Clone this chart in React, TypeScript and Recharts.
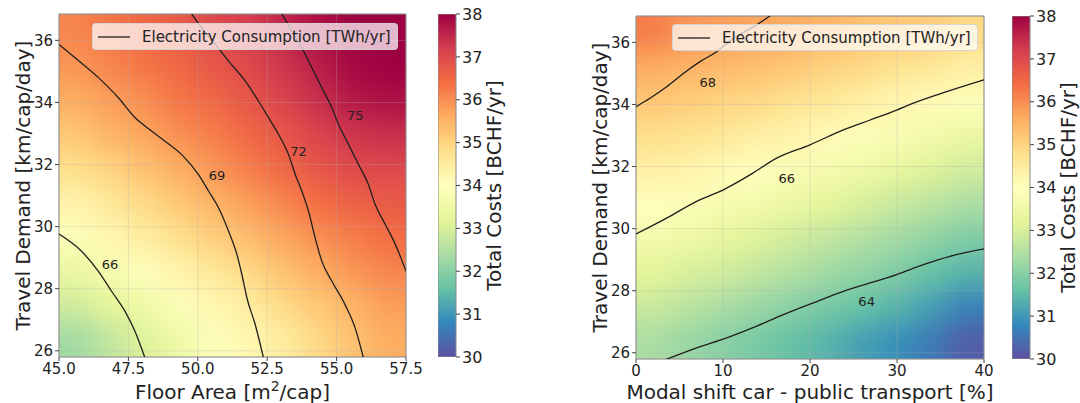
import {
  ScatterChart,
  Scatter,
  ComposedChart,
  Line,
  XAxis,
  YAxis,
  CartesianGrid,
  ReferenceArea,
  ReferenceDot,
  Legend,
  BarChart,
  Bar,
} from "recharts";

const FONT = "'DejaVu Sans', Verdana, sans-serif";
const INK = "#222222";

// shared y axis (travel demand, km/cap/day)
const Y_DOMAIN: [number, number] = [25.8, 36.85];
const TRAVEL_TICKS = [26, 28, 30, 32, 34, 36];
const TRAVEL_Y = [36.25, 35.15, 34.05, 32.95, 31.85, 30.75, 29.65, 28.55, 27.45, 26.35];
const COST_TICKS = [30, 31, 32, 33, 34, 35, 36, 37, 38];

// left panel: floor area
const FLOOR_DOMAIN: [number, number] = [45, 57.5];
const FLOOR_TICKS = [45, 47.5, 50, 52.5, 55, 57.5];
const FLOOR_X = [45.625, 46.875, 48.125, 49.375, 50.625, 51.875, 53.125, 54.375, 55.625, 56.875];
// total costs [BCHF/yr], rows follow TRAVEL_Y (top -> bottom)
const COST_FLOOR = [
  [36.1, 36.3, 36.5, 36.7, 37.0, 37.2, 37.5, 37.8, 38.0, 38.0],
  [35.9, 36.1, 36.3, 36.5, 36.8, 37.0, 37.3, 37.6, 37.9, 38.0],
  [35.6, 35.8, 36.0, 36.3, 36.5, 36.8, 37.1, 37.4, 37.7, 37.8],
  [35.2, 35.5, 35.7, 36.0, 36.2, 36.5, 36.8, 37.1, 37.3, 37.4],
  [34.8, 35.0, 35.3, 35.6, 35.9, 36.2, 36.5, 36.8, 37.0, 37.0],
  [34.3, 34.6, 34.9, 35.2, 35.5, 35.8, 36.1, 36.4, 36.6, 36.7],
  [33.9, 34.2, 34.5, 34.8, 35.1, 35.4, 35.7, 36.0, 36.2, 36.4],
  [33.4, 33.7, 34.0, 34.3, 34.6, 34.9, 35.3, 35.6, 35.9, 36.1],
  [32.9, 33.2, 33.5, 33.9, 34.2, 34.5, 34.9, 35.2, 35.5, 35.8],
  [32.3, 32.7, 33.1, 33.5, 33.9, 34.2, 34.5, 34.9, 35.3, 35.6],
];
// electricity consumption contours [TWh/yr]
const ELEC_FLOOR_66 = [[45.0, 29.76], [45.82, 29.2], [46.42, 28.56], [46.9, 27.91], [47.38, 27.27], [47.74, 26.62], [48.1, 25.76]];
const ELEC_FLOOR_69 = [[45.0, 35.87], [45.58, 35.44], [46.42, 34.8], [47.14, 34.15], [47.74, 33.51], [48.1, 33.24], [48.82, 32.75], [49.42, 32.32], [50.02, 31.68], [50.39, 31.14], [50.75, 30.6], [51.11, 29.85], [51.41, 29.1], [51.59, 28.45], [51.77, 27.7], [52.07, 26.84], [52.37, 25.76]];
const ELEC_FLOOR_72 = [[49.78, 36.85], [50.14, 36.41], [50.63, 35.87], [51.11, 35.33], [51.71, 34.69], [52.19, 34.04], [52.55, 33.51], [52.91, 32.97], [53.27, 32.32], [53.51, 31.68], [53.75, 31.14], [53.99, 30.49], [54.23, 29.63], [54.47, 28.88], [54.83, 28.24], [55.31, 27.48], [55.67, 26.73], [55.97, 25.76]];
const ELEC_FLOOR_75 = [[53.03, 36.85], [53.39, 36.3], [53.75, 35.76], [54.11, 35.12], [54.47, 34.47], [54.83, 33.83], [55.07, 33.29], [55.43, 32.65], [55.79, 32.0], [56.15, 31.35], [56.39, 30.71], [56.76, 30.06], [57.12, 29.42], [57.5, 28.56]];
const FLOOR_LEVELS = ["66", "69", "72", "75"];
const FLOOR_LABEL_AT = [[46.84, 28.77], [50.69, 31.66], [53.63, 32.41], [55.67, 33.59]];

// right panel: modal shift
const MODAL_DOMAIN: [number, number] = [0, 40];
const MODAL_TICKS = [0, 10, 20, 30, 40];
const MODAL_X = [2, 6, 10, 14, 18, 22, 26, 30, 34, 38];
const COST_MODAL = [
  [36.2, 35.9, 35.8, 35.7, 35.6, 35.5, 35.3, 35.2, 35.1, 34.9],
  [35.6, 35.5, 35.4, 35.3, 35.2, 35.0, 34.9, 34.7, 34.6, 34.4],
  [35.2, 35.1, 35.0, 34.9, 34.7, 34.6, 34.4, 34.2, 34.1, 33.9],
  [34.8, 34.7, 34.6, 34.4, 34.3, 34.1, 33.9, 33.8, 33.6, 33.4],
  [34.4, 34.3, 34.1, 34.0, 33.8, 33.7, 33.5, 33.3, 33.1, 32.9],
  [34.0, 33.9, 33.7, 33.6, 33.4, 33.2, 33.0, 32.8, 32.6, 32.4],
  [33.6, 33.5, 33.3, 33.1, 32.9, 32.7, 32.5, 32.3, 32.1, 31.9],
  [33.2, 33.0, 32.9, 32.7, 32.5, 32.3, 32.1, 31.9, 31.6, 31.4],
  [32.8, 32.6, 32.4, 32.2, 32.0, 31.8, 31.6, 31.4, 31.1, 30.7],
  [32.4, 32.2, 32.0, 31.8, 31.6, 31.4, 31.1, 30.9, 30.6, 30.2],
];
const ELEC_MODAL_68 = [[0, 33.93], [1.61, 34.2], [3.52, 34.57], [5.44, 35.0], [7.36, 35.38], [9.27, 35.7], [11.19, 36.13], [13.49, 36.5], [15.4, 36.85]];
const ELEC_MODAL_66 = [[0, 29.83], [3.52, 30.34], [6.97, 30.88], [10.04, 31.25], [13.1, 31.73], [16.17, 32.27], [20.0, 32.7], [23.83, 33.18], [26.9, 33.5], [29.96, 33.82], [31.88, 34.04], [35.71, 34.41], [40, 34.79]];
const ELEC_MODAL_64 = [[3.14, 25.75], [6.97, 26.16], [10.42, 26.48], [13.87, 26.86], [16.93, 27.23], [20.38, 27.61], [23.83, 27.98], [26.9, 28.25], [29.96, 28.52], [33.03, 28.84], [36.09, 29.11], [40, 29.35]];
const MODAL_LEVELS = ["68", "66", "64"];
const MODAL_LABEL_AT = [[8.24, 34.7], [17.32, 31.63], [26.51, 27.66]];

const COLORBAR = [{ name: "cost", range: [30, 38] }];

// Spectral_r, 30 -> 38
const SPECTRAL_R = ["#5e4fa2", "#3288bd", "#66c2a5", "#abdda4", "#e6f598", "#ffffbf", "#fee08b", "#fdae61", "#f46d43", "#d53e4f", "#9e0142"];

function hexRgb(h: string) {
  return [1, 3, 5].map((i) => parseInt(h.slice(i, i + 2), 16));
}

function cmap(v: number) {
  const t = Math.max(0, Math.min(1, (v - 30) / 8)) * 10;
  const i = Math.min(9, Math.floor(t));
  const f = t - i;
  const a = hexRgb(SPECTRAL_R[i]);
  const b = hexRgb(SPECTRAL_R[i + 1]);
  const c = a.map((x, k) => Math.round(x + (b[k] - x) * f));
  return `rgb(${c[0]},${c[1]},${c[2]})`;
}

const toPts = (arr: number[][]) => arr.map(([x, y]) => ({ x, y }));

function Heatmap({ left, top, width, height, xs, grid, xDomain }: any) {
  const E = 50;
  const xpp = (xDomain[1] - xDomain[0]) / width;
  const ypp = (Y_DOMAIN[1] - Y_DOMAIN[0]) / height;
  const cw = (xs[1] - xs[0]) / xpp;
  const ch = (TRAVEL_Y[0] - TRAVEL_Y[1]) / ypp;
  const cells: any[] = [];
  TRAVEL_Y.forEach((y, r) => xs.forEach((x: number, c: number) => cells.push({ x, y, v: grid[r][c], r, c })));
  const lastC = xs.length - 1;
  const lastR = TRAVEL_Y.length - 1;

  const shape = (p: any) => {
    const { cx, cy, payload } = p;
    let x0 = cx - cw / 2 - 0.6;
    let x1 = cx + cw / 2 + 0.6;
    let y0 = cy - ch / 2 - 0.6;
    let y1 = cy + ch / 2 + 0.6;
    if (payload.c === 0) x0 -= E;
    if (payload.c === lastC) x1 += E;
    if (payload.r === 0) y0 -= E;
    if (payload.r === lastR) y1 += E;
    return <rect x={x0} y={y0} width={x1 - x0} height={y1 - y0} fill={cmap(payload.v)} />;
  };

  return (
    <div style={{ position: "absolute", left, top, width, height, overflow: "hidden" }}>
      <div style={{ position: "absolute", left: -E, top: -E, filter: "blur(13px)" }}>
        <ScatterChart
          width={width + 2 * E}
          height={height + 2 * E}
          margin={{ top: 0, right: 0, bottom: 0, left: 0 }}
        >
          <XAxis type="number" dataKey="x" hide allowDataOverflow domain={[xDomain[0] - E * xpp, xDomain[1] + E * xpp]} />
          <YAxis type="number" dataKey="y" hide allowDataOverflow domain={[Y_DOMAIN[0] - E * ypp, Y_DOMAIN[1] + E * ypp]} />
          <Scatter data={cells} shape={shape} isAnimationActive={false} />
        </ScatterChart>
      </div>
    </div>
  );
}

const vTitle = (text: string, shift: number) => (props: any) => {
  const vb = props.viewBox || {};
  const cx = vb.x + vb.width / 2 + shift;
  const cy = vb.y + vb.height / 2;
  return (
    <text
      x={cx}
      y={cy}
      transform={`rotate(-90 ${cx} ${cy})`}
      textAnchor="middle"
      dominantBaseline="central"
      fontSize={20}
      fontFamily={FONT}
      fill={INK}
    >
      {text}
    </text>
  );
};

const xTitle = (parts: any) => (props: any) => {
  const vb = props.viewBox || {};
  return (
    <text x={vb.x + vb.width / 2} y={vb.y + vb.height - 4} textAnchor="middle" fontSize={20} fontFamily={FONT} fill={INK}>
      {parts}
    </text>
  );
};

const legendBox = () => (
  <div
    style={{
      width: 306,
      height: 27,
      boxSizing: "border-box",
      background: "rgba(255,255,255,0.72)",
      border: "1px solid rgba(210,210,210,0.9)",
      borderRadius: 4,
      display: "flex",
      alignItems: "center",
      fontFamily: FONT,
      fontSize: 15,
      color: INK,
      whiteSpace: "nowrap",
    }}
  >
    <svg width={32} height={4} style={{ marginLeft: 5 }}>
      <line x1={0} y1={2} x2={32} y2={2} stroke="#1f1f1f" strokeWidth={1.3} />
    </svg>
    <span style={{ marginLeft: 12 }}>Electricity Consumption [TWh/yr]</span>
  </div>
);

function Panel({ left, top, plotW, xDomain, xTicks, xFmt, contours, levels, labelAt, xLabel, legendLeft, legendTop }: any) {
  const plotH = 343;
  const W = 450;
  return (
    <div style={{ position: "absolute", left, top: 0 }}>
      <ComposedChart width={W} height={403} margin={{ top, right: W - 59 - plotW, bottom: 0, left: 0 }}>
        <CartesianGrid stroke="#b0b0b0" strokeOpacity={0.35} strokeWidth={0.8} />
        <XAxis
          type="number"
          dataKey="x"
          domain={xDomain}
          ticks={xTicks}
          tickFormatter={xFmt}
          allowDataOverflow
          interval={0}
          height={403 - top - plotH}
          axisLine={false}
          tickLine={{ stroke: "#444" }}
          tickSize={4}
          tickMargin={2}
          tick={{ fontSize: 15, fill: INK, fontFamily: FONT }}
          label={xTitle(xLabel)}
        />
        <YAxis
          type="number"
          dataKey="y"
          domain={Y_DOMAIN}
          ticks={TRAVEL_TICKS}
          allowDataOverflow
          interval={0}
          width={59}
          axisLine={false}
          tickLine={{ stroke: "#444" }}
          tickSize={4}
          tickMargin={2}
          tick={{ fontSize: 15, fill: INK, fontFamily: FONT }}
          label={vTitle("Travel Demand [km/cap/day]", -6.5)}
        />
        {contours.map((c: number[][], i: number) => (
          <Line
            key={levels[i]}
            data={toPts(c)}
            dataKey="y"
            type="monotone"
            stroke="#1f1f1f"
            strokeWidth={1.3}
            dot={false}
            activeDot={false}
            legendType="none"
            isAnimationActive={false}
          />
        ))}
        {labelAt.map(([x, y]: number[], i: number) => (
          <ReferenceDot
            key={"l" + levels[i]}
            x={x}
            y={y}
            r={0}
            fill="none"
            stroke="none"
            label={{ value: levels[i], position: "center", fontSize: 13, fill: INK, fontFamily: FONT }}
          />
        ))}
        <ReferenceArea
          x1={xDomain[0]}
          x2={xDomain[1]}
          y1={Y_DOMAIN[0]}
          y2={Y_DOMAIN[1]}
          fill="none"
          fillOpacity={0}
          stroke="#8a8a8a"
          strokeWidth={1}
        />
        <Legend
          layout="vertical"
          align="center"
          verticalAlign="middle"
          content={legendBox}
          wrapperStyle={{ position: "absolute", left: legendLeft, top: legendTop, width: 306, height: 27 }}
        />
      </ComposedChart>
    </div>
  );
}

function ColorBar({ left, top, id, labelWidth }: any) {
  return (
    <div style={{ position: "absolute", left, top: 0 }}>
      <BarChart
        width={18 + labelWidth}
        height={403}
        data={COLORBAR}
        margin={{ top, right: 0, bottom: 403 - top - 343, left: 0 }}
        barCategoryGap={0}
      >
        <defs>
          <linearGradient id={id} x1="0" y1="1" x2="0" y2="0">
            {SPECTRAL_R.map((c, i) => (
              <stop key={i} offset={i / 10} stopColor={c} />
            ))}
          </linearGradient>
        </defs>
        <XAxis dataKey="name" hide />
        <YAxis
          orientation="right"
          type="number"
          domain={[30, 38]}
          ticks={COST_TICKS}
          allowDataOverflow
          interval={0}
          width={labelWidth}
          axisLine={false}
          tickLine={{ stroke: "#444" }}
          tickSize={4}
          tickMargin={2}
          tick={{ fontSize: 16, fill: INK, fontFamily: FONT }}
          label={vTitle("Total Costs [BCHF/yr]", 0)}
        />
        <Bar dataKey="range" fill={`url(#${id})`} stroke="#8a8a8a" strokeWidth={1} isAnimationActive={false} />
      </BarChart>
    </div>
  );
}

export default function App() {
  const floorLabel = (
    <>
      Floor Area [m
      <tspan dy={-8} fontSize={14}>2</tspan>
      <tspan dy={8}>/cap]</tspan>
    </>
  );
  return (
    <div
      style={{
        position: "absolute",
        left: 0,
        top: 0,
        width: 1080,
        height: 403,
        overflow: "hidden",
        background: "#ffffff",
        fontFamily: FONT,
      }}
    >
      <Heatmap left={59} top={14} width={347} height={343} xs={FLOOR_X} grid={COST_FLOOR} xDomain={FLOOR_DOMAIN} />
      <Heatmap left={636} top={16} width={348} height={343} xs={MODAL_X} grid={COST_MODAL} xDomain={MODAL_DOMAIN} />

      <Panel
        left={0}
        top={14}
        plotW={347}
        xDomain={FLOOR_DOMAIN}
        xTicks={FLOOR_TICKS}
        xFmt={(v: number) => v.toFixed(1)}
        contours={[ELEC_FLOOR_66, ELEC_FLOOR_69, ELEC_FLOOR_72, ELEC_FLOOR_75]}
        levels={FLOOR_LEVELS}
        labelAt={FLOOR_LABEL_AT}
        xLabel={floorLabel}
        legendLeft={92}
        legendTop={23}
      />
      <Panel
        left={577}
        top={16}
        plotW={348}
        xDomain={MODAL_DOMAIN}
        xTicks={MODAL_TICKS}
        xFmt={(v: number) => String(v)}
        contours={[ELEC_MODAL_68, ELEC_MODAL_66, ELEC_MODAL_64]}
        levels={MODAL_LEVELS}
        labelAt={MODAL_LABEL_AT}
        xLabel="Modal shift car - public transport [%]"
        legendLeft={95}
        legendTop={24}
      />

      <ColorBar left={438} top={14} id="cbLeft" labelWidth={76} />
      <ColorBar left={1012} top={16} id="cbRight" labelWidth={75} />
    </div>
  );
}
